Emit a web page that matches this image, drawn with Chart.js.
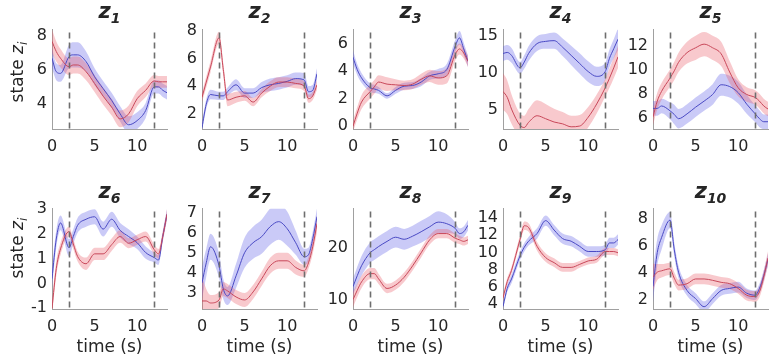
<!DOCTYPE html>
<html>
<head>
<meta charset="utf-8">
<script src="https://cdn.jsdelivr.net/npm/chart.js@4.4.1/dist/chart.umd.min.js"></script>
<style>
  html, body { margin: 0; padding: 0; background: #fff; }
  #fig { position: relative; width: 770px; height: 358px; overflow: hidden; font-family: "DejaVu Sans", sans-serif; color: #262626; }
  #fig canvas { position: absolute; }
  .ttl { position: absolute; width: 115px; text-align: center; font-weight: bold; font-style: italic; font-size: 21px; line-height: 22px; z-index: 2; }
  .ttl sub { font-size: 14px; vertical-align: -5px; line-height: 0; }
  .ylab { position: absolute; width: 120px; height: 22px; line-height: 22px; text-align: center; font-size: 17px; transform: rotate(-90deg); white-space: nowrap; }
  .ylab sub { font-size: 12px; line-height: 0; }
  .xlab { position: absolute; width: 115px; text-align: center; font-size: 17px; line-height: 20px; }
</style>
</head>
<body>
<div id="fig"></div>
<script>
// sample times (s) shared by every panel
const timeGrid = [0, 0.5, 1, 2, 2.5, 3, 4, 5, 6, 7, 8, 9, 10, 11, 12, 12.5, 13, 13.5];
const stimTimes = [2, 12];
const xTickValues = [0, 5, 10];
const panelNames = ['1', '2', '3', '4', '5', '6', '7', '8', '9', '10'];
const yMin = [2.5, 0.9, -0.2, 2.4, 5.1, -1.03, 2.2, 8.2, 3.4, 1.33];
const yMax = [8.4, 8.1, 7.0, 15.9, 13.3, 3.03, 7.2, 27.5, 15.1, 8.75];
const yTickValues = [[4, 6, 8], [2, 4, 6, 8], [0, 2, 4, 6], [5, 10, 15], [6, 8, 10, 12],
                     [-1, 0, 1, 2, 3], [3, 4, 5, 6, 7], [10, 20], [4, 6, 8, 10, 12, 14], [2, 4, 6, 8]];

const z1Blue   = [6.7, 5.9, 5.8, 6.8, 6.9, 6.9, 6.5, 5.6, 4.9, 4.2, 3.4, 2.75, 3.0, 3.6, 5.0, 5.0, 4.8, 4.65];
const z1BlueSd = [0.6, 0.5, 0.5, 0.7, 0.75, 0.75, 0.6, 0.5, 0.45, 0.45, 0.45, 0.5, 0.5, 0.45, 0.4, 0.4, 0.4, 0.4];
const z1Red    = [7.7, 7.1, 6.7, 6.2, 6.3, 6.3, 5.9, 5.2, 4.45, 3.8, 3.1, 3.4, 4.3, 4.8, 5.35, 5.3, 5.3, 5.3];
const z1RedSd  = [0.7, 0.6, 0.55, 0.5, 0.5, 0.5, 0.5, 0.5, 0.5, 0.5, 0.5, 0.5, 0.45, 0.4, 0.35, 0.35, 0.35, 0.35];

const z2Blue   = [1.0, 2.7, 3.4, 3.3, 3.3, 3.6, 4.1, 3.5, 3.5, 3.9, 4.1, 4.2, 4.35, 4.55, 4.45, 3.6, 3.7, 4.9];
const z2BlueSd = [0.3, 0.35, 0.35, 0.3, 0.3, 0.3, 0.4, 0.35, 0.35, 0.4, 0.45, 0.45, 0.45, 0.45, 0.5, 0.4, 0.4, 0.4];
const z2Red    = [3.2, 4.3, 5.4, 7.5, 5.2, 3.0, 3.2, 3.3, 2.85, 3.5, 4.0, 4.3, 4.3, 4.2, 4.0, 3.1, 3.3, 4.1];
const z2RedSd  = [0.35, 0.4, 0.4, 0.45, 0.45, 0.45, 0.4, 0.35, 0.3, 0.3, 0.35, 0.35, 0.35, 0.35, 0.35, 0.3, 0.3, 0.35];

const z3Blue   = [5.0, 4.1, 3.5, 2.8, 2.7, 2.6, 2.2, 2.6, 2.9, 2.95, 3.2, 3.65, 3.8, 4.1, 5.8, 6.4, 5.6, 4.7];
const z3BlueSd = [0.5, 0.4, 0.35, 0.3, 0.3, 0.25, 0.2, 0.25, 0.25, 0.25, 0.3, 0.3, 0.35, 0.4, 0.45, 0.5, 0.45, 0.4];
const z3Red    = [0.0, 0.95, 1.75, 2.5, 2.85, 3.2, 3.05, 3.0, 2.95, 3.05, 3.4, 3.65, 3.5, 3.65, 5.2, 5.6, 5.3, 4.7];
const z3RedSd  = [0.4, 0.45, 0.5, 0.5, 0.5, 0.5, 0.5, 0.4, 0.35, 0.35, 0.4, 0.45, 0.5, 0.55, 0.45, 0.4, 0.4, 0.4];

const z4Blue   = [12.65, 12.8, 12.4, 10.7, 11.5, 12.65, 14.0, 14.3, 14.4, 13.5, 12.4, 11.3, 10.2, 9.55, 10.2, 12.0, 13.3, 14.6];
const z4BlueSd = [1.0, 1.0, 1.0, 0.8, 0.9, 1.0, 1.0, 1.0, 1.1, 1.2, 1.3, 1.4, 1.4, 1.3, 1.2, 1.2, 1.3, 1.5];
const z4Red    = [7.5, 6.7, 5.1, 2.9, 2.6, 3.3, 4.2, 3.8, 3.35, 3.1, 2.7, 2.8, 4.0, 5.8, 8.0, 9.3, 10.7, 12.2];
const z4RedSd  = [2.5, 2.3, 2.0, 1.6, 1.6, 1.8, 2.1, 2.0, 1.8, 1.6, 1.5, 1.5, 1.4, 1.3, 1.2, 1.3, 1.4, 1.5];

const z5Blue   = [6.8, 6.8, 7.0, 6.6, 6.3, 5.95, 6.35, 6.9, 7.4, 7.95, 8.75, 8.6, 8.1, 7.15, 6.35, 5.95, 5.7, 5.7];
const z5BlueSd = [0.6, 0.6, 0.6, 0.7, 0.8, 0.8, 0.8, 0.8, 0.8, 0.85, 0.9, 0.9, 0.9, 0.8, 0.7, 0.7, 0.6, 0.6];
const z5Red    = [6.1, 7.4, 8.2, 9.3, 9.9, 10.6, 11.4, 11.8, 12.1, 11.8, 11.3, 9.8, 8.5, 7.95, 7.7, 7.4, 7.0, 6.75];
const z5RedSd  = [0.7, 0.7, 0.7, 0.7, 0.75, 0.8, 0.9, 1.0, 1.0, 1.0, 1.0, 0.9, 0.7, 0.6, 0.6, 0.6, 0.6, 0.6];

const z6Blue   = [0.2, 1.8, 2.45, 1.45, 1.9, 2.35, 2.6, 2.7, 2.2, 2.6, 2.15, 1.9, 1.65, 1.25, 1.05, 0.95, 1.9, 2.8];
const z6BlueSd = [0.4, 0.35, 0.3, 0.35, 0.3, 0.3, 0.3, 0.3, 0.3, 0.3, 0.3, 0.3, 0.25, 0.25, 0.2, 0.2, 0.2, 0.2];
const z6Red    = [-1.0, 0.6, 1.4, 2.1, 1.6, 1.1, 0.8, 1.2, 1.2, 1.57, 1.9, 1.63, 1.77, 1.9, 1.37, 1.2, 1.9, 2.8];
const z6RedSd  = [0.3, 0.3, 0.25, 0.2, 0.2, 0.2, 0.25, 0.25, 0.25, 0.25, 0.25, 0.2, 0.2, 0.2, 0.2, 0.2, 0.2, 0.2];

const z7Blue   = [3.5, 4.5, 5.3, 4.35, 3.2, 2.85, 3.85, 5.0, 5.5, 5.8, 6.3, 6.55, 6.2, 5.5, 4.8, 4.9, 5.7, 6.8];
const z7BlueSd = [0.8, 0.7, 0.65, 0.6, 0.5, 0.45, 0.6, 0.75, 0.8, 0.85, 0.9, 0.9, 0.85, 0.6, 0.4, 0.35, 0.35, 0.4];
const z7Red    = [2.6, 2.6, 2.5, 2.65, 3.2, 3.1, 2.8, 2.65, 3.05, 3.7, 4.35, 4.6, 4.6, 4.27, 4.1, 4.5, 5.3, 6.45];
const z7RedSd  = [1.2, 0.6, 0.4, 0.4, 0.35, 0.35, 0.35, 0.35, 0.35, 0.35, 0.4, 0.4, 0.4, 0.35, 0.3, 0.3, 0.35, 0.4];

const z8Blue   = [12.5, 14.6, 16.5, 19.0, 19.6, 20.2, 21.2, 22.0, 21.6, 22.2, 23.05, 24.0, 24.9, 24.6, 23.7, 22.7, 23.05, 24.3];
const z8BlueSd = [1.5, 1.7, 1.9, 2.0, 2.0, 2.0, 2.0, 2.0, 2.0, 2.0, 2.1, 2.1, 2.1, 1.8, 1.2, 1.0, 1.0, 1.0];
const z8Red    = [10.0, 11.8, 13.4, 15.0, 15.0, 14.0, 12.15, 12.8, 14.3, 16.5, 19.0, 21.5, 22.7, 22.7, 21.8, 21.5, 21.2, 21.5];
const z8RedSd  = [1.5, 1.3, 1.2, 1.1, 1.1, 1.0, 0.9, 0.9, 0.9, 0.9, 0.9, 0.9, 0.9, 0.9, 0.9, 0.8, 0.8, 0.8];

const z9Blue   = [3.7, 5.8, 6.9, 9.6, 10.6, 11.3, 12.2, 13.7, 12.6, 11.6, 11.3, 10.7, 10.1, 10.1, 10.3, 11.1, 11.1, 11.5];
const z9BlueSd = [0.3, 0.4, 0.5, 0.5, 0.5, 0.5, 0.6, 0.6, 0.6, 0.6, 0.6, 0.6, 0.6, 0.6, 0.6, 0.6, 0.6, 0.6];
const z9Red    = [4.7, 6.6, 7.9, 11.5, 13.1, 12.9, 10.7, 9.4, 8.8, 8.25, 8.25, 8.6, 9.0, 9.2, 10.1, 10.1, 10.1, 9.95];
const z9RedSd  = [0.4, 0.4, 0.4, 0.5, 0.5, 0.5, 0.5, 0.5, 0.5, 0.5, 0.5, 0.4, 0.4, 0.4, 0.4, 0.4, 0.4, 0.4];

const z10Blue   = [3.0, 5.5, 6.6, 7.9, 5.7, 4.05, 2.7, 2.1, 1.5, 2.1, 2.7, 2.85, 2.95, 2.5, 2.35, 2.85, 3.8, 5.0];
const z10BlueSd = [1.2, 1.0, 0.9, 0.6, 0.5, 0.45, 0.4, 0.4, 0.4, 0.4, 0.4, 0.4, 0.4, 0.35, 0.35, 0.35, 0.4, 0.45];
const z10Red    = [3.7, 4.05, 4.15, 4.3, 3.6, 3.1, 3.2, 3.55, 3.55, 3.45, 3.3, 3.2, 2.85, 2.35, 2.25, 2.6, 3.7, 5.1];
const z10RedSd  = [1.0, 0.6, 0.5, 0.45, 0.45, 0.4, 0.4, 0.4, 0.4, 0.4, 0.4, 0.4, 0.4, 0.4, 0.4, 0.4, 0.45, 0.5];

const blueMeans = [z1Blue, z2Blue, z3Blue, z4Blue, z5Blue, z6Blue, z7Blue, z8Blue, z9Blue, z10Blue];
const blueSds = [z1BlueSd, z2BlueSd, z3BlueSd, z4BlueSd, z5BlueSd, z6BlueSd, z7BlueSd, z8BlueSd, z9BlueSd, z10BlueSd];
const redMeans = [z1Red, z2Red, z3Red, z4Red, z5Red, z6Red, z7Red, z8Red, z9Red, z10Red];
const redSds = [z1RedSd, z2RedSd, z3RedSd, z4RedSd, z5RedSd, z6RedSd, z7RedSd, z8RedSd, z9RedSd, z10RedSd];

// layout of the 2x5 grid (plot areas, px)
const colLeft = [52, 202, 353, 503, 653];
const rowTop = [27, 206];
const rowHeight = [102, 103];
const plotW = 115;
const yAxisW = 44, xAxisH = 32, padTop = 12;

const blueLine = '#4a4ac4', blueFill = 'rgba(95,95,230,0.33)';
const redLine = '#c8485a', redFill = 'rgba(235,90,102,0.33)';
const tickFont = { family: 'DejaVu Sans', size: 16 };

const stimLines = {
  id: 'stimLines',
  afterDatasetsDraw(chart) {
    const { ctx, chartArea, scales: { x } } = chart;
    ctx.save();
    ctx.strokeStyle = '#6e6e6e';
    ctx.lineWidth = 1.6;
    ctx.setLineDash([6, 4]);
    stimTimes.forEach(t => {
      const px = Math.round(x.getPixelForValue(t)) + 0.5;
      ctx.beginPath();
      ctx.moveTo(px, chartArea.top + 3);
      ctx.lineTo(px, chartArea.bottom);
      ctx.stroke();
    });
    ctx.restore();
  }
};

function toPoints(means, sds, sign) {
  return timeGrid.map((t, i) => ({ x: t, y: means[i] + sign * (sds ? sds[i] : 0) }));
}

function band(color, data, fill, order) {
  return { data, fill, order, backgroundColor: color, borderColor: 'transparent', borderWidth: 0,
           pointRadius: 0, cubicInterpolationMode: 'monotone' };
}

function meanLine(color, data, order) {
  return { data, order, borderColor: color, borderWidth: 1, pointRadius: 0, fill: false,
           cubicInterpolationMode: 'monotone' };
}

const fig = document.getElementById('fig');

panelNames.forEach((name, k) => {
  const row = Math.floor(k / 5), col = k % 5;
  const left = colLeft[col], top = rowTop[row], h = rowHeight[row];

  const cv = document.createElement('canvas');
  cv.width = yAxisW + plotW + 2;
  cv.height = padTop + h + xAxisH;
  cv.style.left = (left - yAxisW) + 'px';
  cv.style.top = (top - padTop) + 'px';
  fig.appendChild(cv);

  const ttl = document.createElement('div');
  ttl.className = 'ttl';
  ttl.style.left = left + 'px';
  ttl.style.top = (row === 0 ? 0 : 180) + 'px';
  ttl.innerHTML = 'z<sub>' + name + '</sub>';
  fig.appendChild(ttl);

  if (row === 1) {
    const xl = document.createElement('div');
    xl.className = 'xlab';
    xl.style.left = left + 'px';
    xl.style.top = '336px';
    xl.textContent = 'time (s)';
    fig.appendChild(xl);
  }

  new Chart(cv, {
    type: 'line',
    data: {
      datasets: [
        band(blueFill, toPoints(blueMeans[k], blueSds[k], 1), '+1', 4),
        band(blueFill, toPoints(blueMeans[k], blueSds[k], -1), false, 4),
        band(redFill, toPoints(redMeans[k], redSds[k], 1), '+1', 3),
        band(redFill, toPoints(redMeans[k], redSds[k], -1), false, 3),
        meanLine(blueLine, toPoints(blueMeans[k], null, 0), 2),
        meanLine(redLine, toPoints(redMeans[k], null, 0), 1)
      ]
    },
    options: {
      responsive: false,
      animation: false,
      events: [],
      layout: { padding: { top: padTop, right: 2, left: 0, bottom: 0 } },
      plugins: { legend: { display: false }, tooltip: { enabled: false } },
      scales: {
        x: {
          type: 'linear', min: 0, max: 13.5,
          afterBuildTicks: s => { s.ticks = xTickValues.map(v => ({ value: v })); },
          afterFit: s => { s.height = xAxisH; },
          grid: { display: false, drawTicks: false },
          border: { display: true, color: '#a0a0a0', width: 1 },
          ticks: { font: tickFont, color: '#262626', padding: 8, maxRotation: 0, autoSkip: false }
        },
        y: {
          type: 'linear', min: yMin[k], max: yMax[k],
          afterBuildTicks: s => { s.ticks = yTickValues[k].map(v => ({ value: v })); },
          afterFit: s => { s.width = yAxisW; },
          grid: { display: false, drawTicks: false },
          border: { display: true, color: '#a0a0a0', width: 1 },
          ticks: { font: tickFont, color: '#262626', padding: 5, autoSkip: false }
        }
      }
    },
    plugins: [stimLines]
  });
});

[72, 248].forEach(cy => {
  const yl = document.createElement('div');
  yl.className = 'ylab';
  yl.style.left = (17 - 60) + 'px';
  yl.style.top = (cy - 11) + 'px';
  yl.innerHTML = 'state <i>z</i><sub><i>i</i></sub>';
  fig.appendChild(yl);
});
</script>
</body>
</html>
